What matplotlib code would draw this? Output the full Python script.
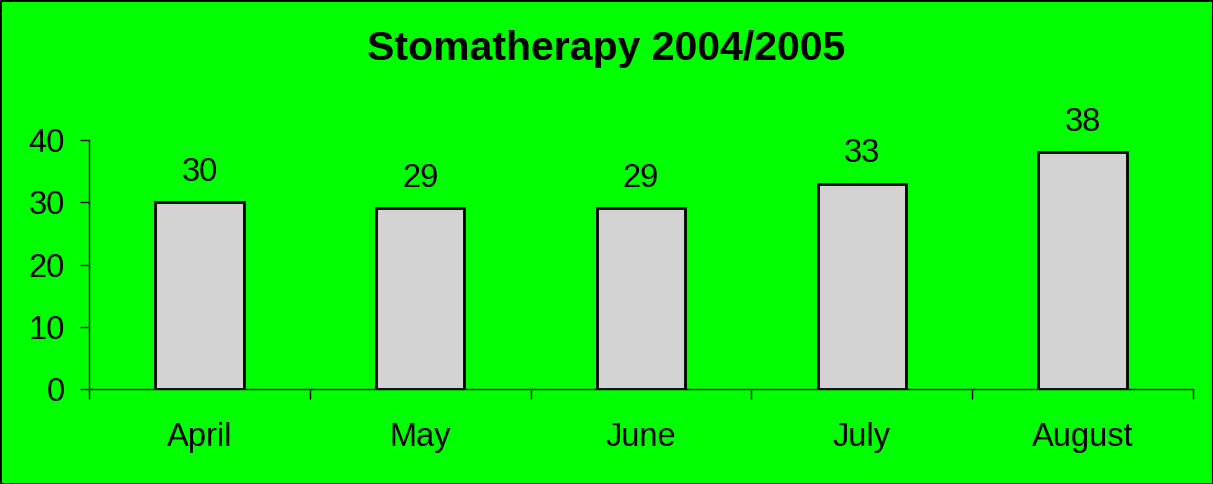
import matplotlib.pyplot as plt

plt.rcParams['font.family'] = ['Liberation Sans', 'DejaVu Sans']

# data
months = ['April', 'May', 'June', 'July', 'August']
counts = [30, 29, 29, 33, 38]

fig = plt.figure(figsize=(12.13, 4.84), dpi=100, facecolor='#00ff00',
                 edgecolor='black', linewidth=2)
ax = fig.add_axes([0.0734, 0.1963, 0.91, 0.5144])
ax.set_facecolor('#00ff00')

x = list(range(len(months)))
ax.bar(x, counts, width=0.4, color='#d3d3d3', edgecolor='black', linewidth=2, zorder=3)

for i, v in enumerate(counts):
    ax.text(i, v + 2.3, str(v), ha='center', va='bottom', fontsize=23.5)

ax.set_xlim(-0.5, len(months) - 0.5)
ax.set_ylim(0, 40)
ax.set_yticks([0, 10, 20, 30, 40])
ax.tick_params(axis='y', labelsize=23.5, length=6.5, width=1, direction='out', pad=11)

# ticks at category boundaries, labels at centres
ax.set_xticks([i - 0.5 for i in range(len(months) + 1)])
ax.set_xticklabels([])
ax.set_xticks(x, minor=True)
ax.set_xticklabels(months, minor=True)
ax.tick_params(axis='x', which='major', length=7, width=1, direction='out')
ax.tick_params(axis='x', which='minor', length=0, labelsize=23.5, pad=24)

for s in ['top', 'right']:
    ax.spines[s].set_visible(False)
ax.spines['left'].set_linewidth(1)
ax.spines['bottom'].set_linewidth(1)

fig.text(0.5, 0.898, 'Stomatherapy 2004/2005', ha='center', va='center',
         fontsize=29.5, fontweight='bold')

fig.savefig('out.png', dpi=100, facecolor=fig.get_facecolor(), edgecolor='black')
